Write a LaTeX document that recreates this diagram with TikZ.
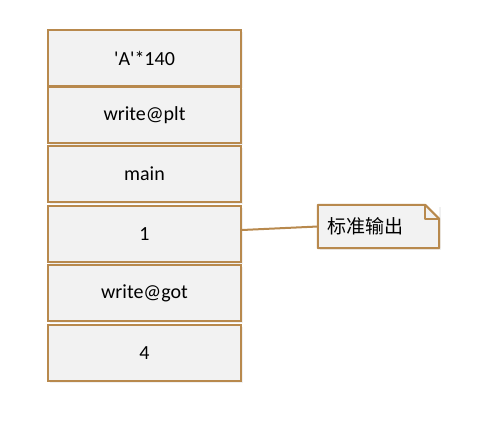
\documentclass[tikz,border=0pt]{standalone}
\usepackage{fontspec}
\setmainfont{Carlito}
\newfontfamily\cjk{Noto Sans CJK SC}
\usetikzlibrary{calc,shadows}
\definecolor{boxline}{RGB}{184,137,77}
\definecolor{boxfill}{RGB}{242,242,242}

\begin{document}
\begin{tikzpicture}[x=1pt,y=1pt,
    slot/.style={draw=boxline,line width=2,fill=boxfill,minimum width=193,minimum height=56,inner sep=0,
      font=\fontsize{20}{24}\selectfont,drop shadow={opacity=0.12,shadow xshift=2,shadow yshift=-2}},
    notebox/.style={fill=boxfill,minimum height=43,text width=103,inner xsep=9,inner ysep=0,align=left,
      font=\fontsize{19}{22}\selectfont\cjk,drop shadow={opacity=0.12,shadow xshift=2,shadow yshift=-2}}]

  \useasboundingbox (0,0) rectangle (486,-436);

  % stack
  \node[slot] (b1) at (144.5,-58) {\textquotesingle A\textquotesingle*140};
  \node[slot] (b2) at (144.5,-115) {write@plt};
  \node[slot] (b3) at (144.5,-174) {main};
  \node[slot] (b4) at (144.5,-234) {1};
  \node[slot] (b5) at (144.5,-293) {write@got};
  \node[slot] (b6) at (144.5,-353) {4};

  % note
  \node[notebox] (note) at (378.5,-226.5) {标准输出};
  \coordinate (fa) at ($(note.north east)+(-14,0)$);
  \coordinate (fb) at ($(note.north east)+(0,-14)$);
  \fill[white] (fa) -- (note.north east) -- (fb) -- cycle;
  \draw[boxline,line width=2,line join=round] (note.south west) -- (note.north west) -- (fa) -- (fb) -- (note.south east) -- cycle;
  \draw[boxline,line width=2,line join=round] (fa) -- ($(fa)+(0,-14)$) -- (fb);

  \draw[boxline,line width=2] ([yshift=4]b4.east) -- (note.west);

\end{tikzpicture}
\end{document}
